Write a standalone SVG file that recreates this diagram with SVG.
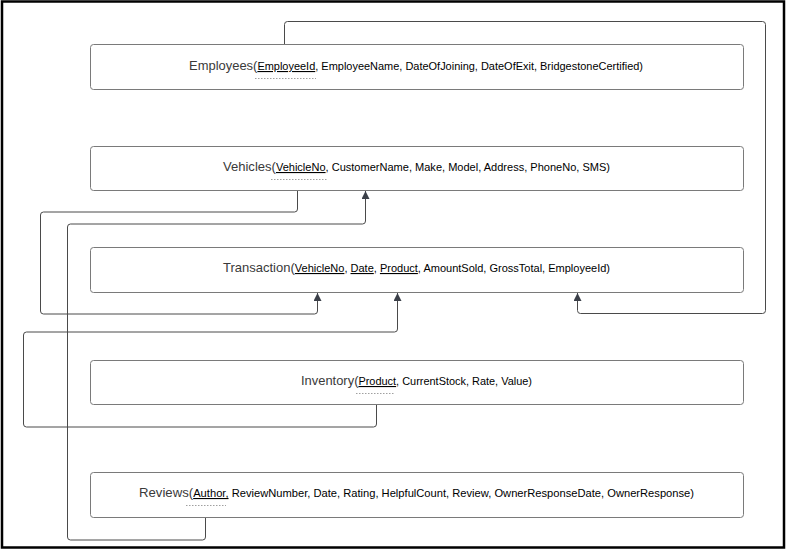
<svg xmlns="http://www.w3.org/2000/svg" width="788" height="550" viewBox="0 0 788 550">
<defs>
<marker id="arr" viewBox="0 0 10 10" refX="10" refY="5" markerWidth="8" markerHeight="8" markerUnits="userSpaceOnUse" orient="auto">
<path d="M0,0 L10,5 L0,10 Z" fill="#3b4049"/>
</marker>
</defs>
<style>
.box{fill:#fff;stroke:#7a7a7a;stroke-width:1}
.t{font-family:"Liberation Sans",Arial,sans-serif;font-size:11px;fill:#000}
.ti{font-size:13px;fill:#3a3a3a}
.u{text-decoration:underline}
.dash{stroke:#a0a0a0;stroke-width:1;stroke-dasharray:1.5 1.5;fill:none}
.c{fill:none;stroke:#4a4a4a;stroke-width:1;stroke-linejoin:round}
</style>
<rect x="2" y="1.5" width="782" height="546" fill="#fff" stroke="#000" stroke-width="2.5"/>
<g id="connectors">
<path class="c" d="M284.5,44 V24.5 Q284.5,21.5 287.5,21.5 H762.5 Q765.5,21.5 765.5,24.5 V310.5 Q765.5,313.5 762.5,313.5 H580.5 Q577.5,313.5 577.5,310.5 V293" marker-end="url(#arr)"/>
<path class="c" d="M297.5,190 V209 Q297.5,212 294.5,212 H43.5 Q40.5,212 40.5,215 V311 Q40.5,314 43.5,314 H314.5 Q317.5,314 317.5,311 V293" marker-end="url(#arr)"/>
<path class="c" d="M205.5,517 V537 Q205.5,540 202.5,540 H70.5 Q67.5,540 67.5,537 V227 Q67.5,224 70.5,224 H362.5 Q365.5,224 365.5,221 V191" marker-end="url(#arr)"/>
<path class="c" d="M376.5,404 V424 Q376.5,427 373.5,427 H26.5 Q23.5,427 23.5,424 V335 Q23.5,332 26.5,332 H394.5 Q397.5,332 397.5,329 V293" marker-end="url(#arr)"/>
</g>
<g id="employees">
<rect class="box" x="90.5" y="44.5" width="653" height="45" rx="3"/>
<text class="t" x="189" y="70" textLength="454" lengthAdjust="spacingAndGlyphs"><tspan class="ti">Employees(</tspan><tspan class="u">EmployeeId</tspan>, EmployeeName, DateOfJoining, DateOfExit, BridgestoneCertified)</text>
<line class="dash" x1="255" y1="78.5" x2="316" y2="78.5"/>
</g>
<g id="vehicles">
<rect class="box" x="90.5" y="146.5" width="653" height="44" rx="3"/>
<text class="t" x="223" y="171" textLength="387" lengthAdjust="spacingAndGlyphs"><tspan class="ti">Vehicles(</tspan><tspan class="u">VehicleNo</tspan>, CustomerName, Make, Model, Address, PhoneNo, SMS)</text>
<line class="dash" x1="271" y1="179.5" x2="327" y2="179.5"/>
</g>
<g id="transaction">
<rect class="box" x="90.5" y="247.5" width="653" height="45" rx="3"/>
<text class="t" x="223" y="272" textLength="387" lengthAdjust="spacingAndGlyphs"><tspan class="ti">Transaction(</tspan><tspan class="u">VehicleNo</tspan>, <tspan class="u">Date</tspan>, <tspan class="u">Product</tspan>, AmountSold, GrossTotal, EmployeeId)</text>
</g>
<g id="inventory">
<rect class="box" x="90.5" y="360.5" width="653" height="44" rx="3"/>
<text class="t" x="301" y="385" textLength="231" lengthAdjust="spacingAndGlyphs"><tspan class="ti">Inventory(</tspan><tspan class="u">Product</tspan>, CurrentStock, Rate, Value)</text>
<line class="dash" x1="356" y1="393.5" x2="395" y2="393.5"/>
</g>
<g id="reviews">
<rect class="box" x="90.5" y="472.5" width="653" height="45" rx="3"/>
<text class="t" x="139" y="497" textLength="555" lengthAdjust="spacingAndGlyphs"><tspan class="ti">Reviews(</tspan><tspan class="u">Author,</tspan> ReviewNumber, Date, Rating, HelpfulCount, Review, OwnerResponseDate, OwnerResponse)</text>
<line class="dash" x1="186" y1="505.5" x2="226" y2="505.5"/>
</g>
</svg>
